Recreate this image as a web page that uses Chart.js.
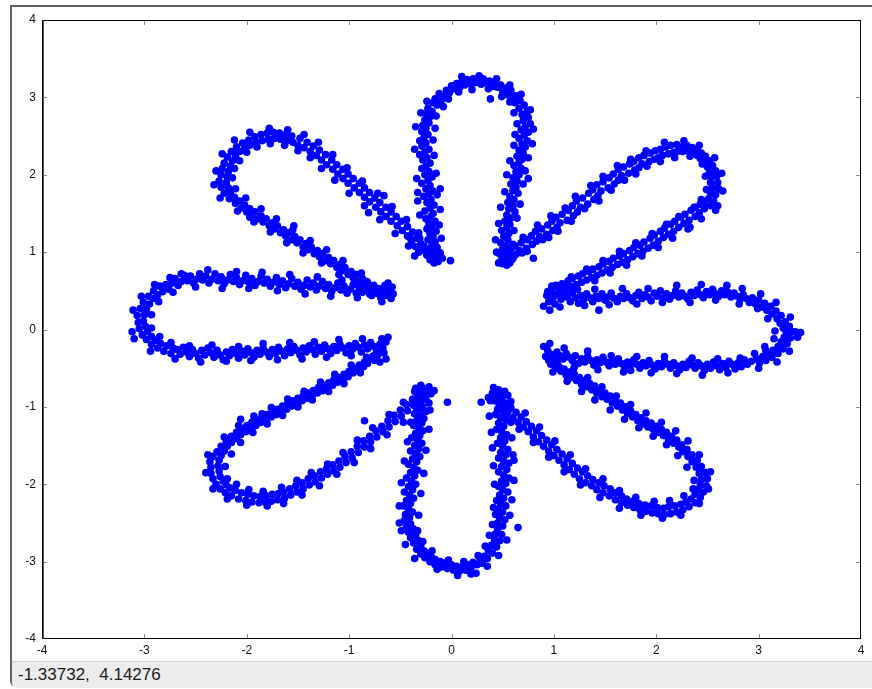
<!DOCTYPE html>
<html>
<head>
<meta charset="utf-8">
<script src="https://cdn.jsdelivr.net/npm/chart.js@4.4.0/dist/chart.umd.min.js"></script>
<style>
  html, body { margin: 0; padding: 0; background: #fff; }
  body { width: 872px; height: 689px; position: relative; overflow: hidden; font-family: "Liberation Sans", Arial, sans-serif; }
  #janela { position: absolute; left: 10px; top: 5px; right: 0; bottom: 2px; border-left: 2px solid #626262; border-top: 2px solid #626262; border-bottom-left-radius: 6px; }
  #grafico { position: absolute; left: 0; top: 0; }
  #status { position: absolute; left: 12px; top: 661px; right: 0; height: 26px; background: #ececec; border-top: 1px solid #d2d2d2; border-bottom-left-radius: 5px; color: #1a1a1a; font-size: 17px; line-height: 26px; padding-left: 6px; white-space: pre; }
</style>
</head>
<body>
<div id="janela"></div>
<canvas id="grafico" width="872" height="660"></canvas>
<div id="status">-1.33732,  4.14276</div>
<script>
// eixos
const tickValues = [-4, -3, -2, -1, 0, 1, 2, 3, 4];

// pontos, uma lista por petala [x, y]
const petalTop = [
  [-0.17,0.86],[-0.13,0.88],[-0.21,0.90],[-0.15,0.93],[-0.19,0.95],[-0.24,0.97],[-0.11,0.99],[-0.17,1.01],[-0.22,1.04],[-0.14,1.06],
  [-0.27,1.08],[-0.19,1.10],[-0.16,1.13],[-0.23,1.16],[-0.31,1.18],[-0.18,1.20],[-0.21,1.24],[-0.15,1.27],[-0.24,1.30],[-0.19,1.33],
  [-0.22,1.37],[-0.16,1.40],[-0.25,1.43],[-0.20,1.46],[-0.18,1.50],[-0.26,1.53],[-0.21,1.57],[-0.17,1.61],[-0.24,1.64],[-0.20,1.68],
  [-0.27,1.72],[-0.22,1.75],[-0.18,1.79],[-0.25,1.82],[-0.21,1.86],[-0.29,1.89],[-0.23,1.93],[-0.19,1.97],[-0.26,2.00],[-0.22,2.04],
  [-0.29,2.08],[-0.25,2.11],[-0.21,2.15],[-0.28,2.19],[-0.24,2.22],[-0.31,2.26],[-0.26,2.29],[-0.22,2.33],[-0.29,2.37],[-0.25,2.41],
  [-0.31,2.44],[-0.27,2.48],[-0.23,2.52],[-0.29,2.56],[-0.25,2.60],[-0.28,2.64],[-0.22,2.67],[-0.26,2.71],[-0.21,2.75],[-0.25,2.79],
  [-0.19,2.82],[-0.23,2.86],[-0.18,2.93],[-0.14,2.90],[-0.16,2.98],[-0.10,2.96],[-0.12,3.05],[-0.07,3.01],[-0.05,3.09],[-0.02,3.06],
  [0.00,3.15],[0.03,3.11],[0.05,3.18],[0.08,3.13],[0.10,3.20],[0.13,3.16],[0.15,3.23],[0.18,3.18],[0.21,3.24],[0.23,3.19],
  [0.26,3.22],[0.29,3.17],[0.31,3.24],[0.34,3.19],[0.37,3.21],[0.40,3.14],[0.42,3.20],[0.45,3.13],[0.48,3.16],[0.50,3.08],
  [0.53,3.12],[0.55,3.03],[0.58,3.09],[0.60,3.00],[0.63,3.02],[0.62,2.93],[0.67,2.96],[0.66,2.86],[0.71,2.90],[0.74,2.82],
  [0.69,2.78],[0.75,2.74],[0.70,2.70],[0.77,2.66],[0.72,2.62],[0.68,2.58],[0.75,2.55],[0.71,2.51],[0.66,2.47],[0.74,2.44],
  [0.69,2.40],[0.72,2.36],[0.66,2.32],[0.70,2.28],[0.64,2.24],[0.69,2.20],[0.66,2.16],[0.61,2.12],[0.68,2.08],[0.63,2.04],
  [0.66,2.00],[0.60,1.96],[0.64,1.92],[0.58,1.88],[0.63,1.84],[0.60,1.80],[0.65,1.76],[0.57,1.72],[0.61,1.68],[0.55,1.64],
  [0.60,1.60],[0.56,1.56],[0.62,1.52],[0.54,1.48],[0.58,1.44],[0.52,1.40],[0.57,1.36],[0.54,1.32],[0.49,1.28],[0.56,1.24],
  [0.51,1.20],[0.55,1.16],[0.48,1.12],[0.53,1.08],[0.50,1.04],[0.56,1.01],[0.47,0.98],[0.52,0.95],[0.55,0.92],[0.49,0.90],
  [0.53,0.88],[0.57,0.86],[0.50,0.85],[0.54,0.83],[-0.41,1.19],[-0.33,1.77],[-0.11,1.82],[0.75,1.95],[-0.01,0.89],[0.38,2.98],
  [-0.09,0.92],[-0.30,1.02],[-0.10,1.18],[-0.12,1.35],[-0.31,1.48],[-0.11,1.55],[-0.33,1.66],[-0.14,1.74],[-0.34,1.95],[-0.15,2.02],
  [-0.17,2.25],[-0.36,2.33],[-0.18,2.45],[-0.35,2.62],[-0.16,2.60],[-0.30,2.80],[-0.15,2.76],[-0.24,2.95],[-0.08,2.88],[-0.03,2.98],
  [0.07,3.07],[0.10,3.27],[0.20,3.10],[0.27,3.28],[0.36,3.11],[0.44,3.24],[0.49,3.01],[0.57,3.16],[0.57,2.94],[0.68,3.04],
  [0.61,2.80],[0.77,2.84],[0.64,2.66],[0.80,2.59],[0.62,2.52],[0.79,2.40],[0.61,2.38],[0.75,2.22],[0.57,2.18],[0.72,2.05],
  [0.54,2.00],[0.70,1.88],[0.52,1.78],[0.67,1.62],[0.48,1.58],[0.64,1.44],[0.46,1.37],[0.61,1.28],[0.43,1.16],[0.60,1.10],
  [0.44,1.00],[0.61,0.95],[0.46,0.86],[0.59,0.90]
];

const petalUpperRight = [
  [0.56,0.93],[0.52,0.99],[0.63,0.97],[0.58,1.04],[0.66,1.02],[0.62,1.08],[0.69,0.99],[0.73,1.05],[0.68,1.12],[0.74,1.16],
  [0.79,1.10],[0.83,1.14],[0.78,1.21],[0.86,1.20],[0.82,1.27],[0.93,1.23],[0.88,1.30],[0.94,1.35],[0.99,1.28],[1.03,1.32],
  [0.98,1.40],[1.06,1.38],[1.02,1.45],[1.13,1.41],[1.08,1.49],[1.14,1.54],[1.19,1.47],[1.23,1.52],[1.18,1.60],[1.26,1.58],
  [1.22,1.66],[1.33,1.62],[1.28,1.70],[1.34,1.76],[1.39,1.68],[1.43,1.73],[1.38,1.81],[1.46,1.79],[1.42,1.87],[1.53,1.83],
  [1.48,1.91],[1.54,1.96],[1.59,1.88],[1.63,1.93],[1.58,2.01],[1.66,1.99],[1.63,2.07],[1.73,2.02],[1.68,2.10],[1.74,2.14],
  [1.79,2.06],[1.83,2.09],[1.78,2.17],[1.86,2.14],[1.83,2.22],[1.93,2.17],[1.88,2.25],[1.94,2.28],[1.98,2.20],[2.02,2.22],
  [1.99,2.31],[2.06,2.25],[2.04,2.33],[2.12,2.27],[2.09,2.36],[2.14,2.38],[2.17,2.29],[2.21,2.30],[2.20,2.39],[2.25,2.36],
  [2.26,2.30],[2.30,2.38],[2.31,2.31],[2.35,2.35],[2.36,2.28],[2.40,2.33],[2.40,2.25],[2.44,2.28],[2.43,2.21],[2.48,2.24],
  [2.47,2.16],[2.52,2.18],[2.50,2.10],[2.55,2.12],[2.52,2.03],[2.58,2.05],[2.54,1.97],[2.59,1.98],[2.53,1.90],[2.60,1.90],
  [2.55,1.83],[2.61,1.82],[2.53,1.76],[2.58,1.74],[2.51,1.69],[2.56,1.66],[2.47,1.63],[2.53,1.60],[2.43,1.62],[2.47,1.56],
  [2.42,1.51],[2.37,1.58],[2.34,1.54],[2.38,1.46],[2.32,1.41],[2.28,1.49],[2.24,1.45],[2.27,1.37],[2.22,1.32],[2.18,1.40],
  [2.14,1.36],[2.17,1.27],[2.12,1.23],[2.08,1.31],[2.04,1.27],[2.07,1.19],[2.02,1.14],[1.98,1.22],[1.94,1.18],[1.97,1.09],
  [1.92,1.05],[1.88,1.13],[1.84,1.09],[1.87,1.01],[1.82,0.98],[1.78,1.06],[1.74,1.02],[1.77,0.94],[1.72,0.90],[1.68,0.98],
  [1.64,0.95],[1.67,0.87],[1.62,0.84],[1.58,0.92],[1.54,0.88],[1.57,0.80],[1.52,0.77],[1.48,0.85],[1.44,0.81],[1.47,0.73],
  [1.42,0.70],[1.38,0.78],[1.34,0.75],[1.37,0.67],[1.32,0.64],[1.28,0.72],[1.24,0.69],[1.27,0.61],[1.22,0.58],[1.18,0.66],
  [1.14,0.63],[1.17,0.55],[1.12,0.51],[1.08,0.59],[1.04,0.56],[1.07,0.48],[1.02,0.45],[0.98,0.53],[0.94,0.49],[0.97,0.42],
  [1.41,1.69],[0.95,1.19],[0.80,0.92],[2.60,1.60],[2.33,1.32],
  [0.60,0.92],[0.55,1.06],[0.74,1.01],[0.70,1.19],[0.89,1.16],[0.84,1.35],[1.04,1.27],[0.97,1.47],[1.17,1.40],[1.11,1.57],
  [1.30,1.56],[1.21,1.72],[1.44,1.66],[1.36,1.86],[1.56,1.80],[1.48,1.98],[1.69,1.93],[1.62,2.12],[1.80,2.01],[1.75,2.20],
  [1.91,2.11],[1.90,2.31],[2.04,2.17],[2.08,2.42],[2.18,2.22],[2.27,2.44],[2.33,2.24],[2.42,2.38],[2.45,2.14],[2.57,2.22],
  [2.48,1.98],[2.64,2.02],[2.49,1.81],[2.65,1.79],[2.44,1.68],[2.58,1.54],[2.38,1.58],[2.44,1.43],[2.22,1.46],[2.31,1.30],
  [2.10,1.36],[2.16,1.18],[1.96,1.24],[2.02,1.06],[1.80,1.12],[1.86,0.95],[1.64,1.01],[1.71,0.83],[1.48,0.89],[1.55,0.73],
  [1.32,0.78],[1.40,0.63],[1.17,0.68],[1.23,0.52],[1.02,0.57],[1.09,0.43]
];

const petalRight = [
  [0.93,0.44],[0.95,0.36],[0.97,0.48],[0.99,0.41],[1.01,0.33],[1.03,0.45],[1.05,0.52],[1.07,0.39],[1.09,0.46],[1.11,0.55],
  [1.13,0.42],[1.16,0.36],[1.18,0.47],[1.21,0.41],[1.24,0.34],[1.26,0.44],[1.29,0.39],[1.32,0.46],[1.35,0.41],[1.38,0.36],
  [1.41,0.43],[1.44,0.40],[1.47,0.46],[1.50,0.38],[1.53,0.42],[1.56,0.47],[1.59,0.40],[1.62,0.36],[1.65,0.43],[1.68,0.40],
  [1.71,0.46],[1.74,0.41],[1.77,0.37],[1.80,0.44],[1.83,0.48],[1.86,0.40],[1.89,0.45],[1.92,0.42],[1.95,0.37],[1.98,0.47],
  [2.01,0.43],[2.04,0.50],[2.07,0.41],[2.10,0.46],[2.13,0.39],[2.16,0.44],[2.19,0.50],[2.22,0.42],[2.25,0.47],[2.28,0.43],
  [2.31,0.39],[2.34,0.48],[2.37,0.44],[2.40,0.51],[2.43,0.45],[2.46,0.41],[2.49,0.49],[2.52,0.45],[2.55,0.52],[2.58,0.46],
  [2.61,0.43],[2.64,0.50],[2.67,0.45],[2.70,0.48],[2.73,0.42],[2.76,0.47],[2.79,0.43],[2.82,0.39],[2.85,0.45],[2.88,0.40],
  [2.91,0.35],[2.94,0.41],[2.97,0.33],[3.00,0.38],[3.03,0.29],[3.06,0.34],[3.08,0.25],[3.12,0.30],[3.13,0.20],[3.17,0.24],
  [3.18,0.14],[3.22,0.18],[3.21,0.08],[3.26,0.10],[3.24,0.02],[3.30,0.04],[3.27,-0.04],[3.33,-0.03],[3.36,-0.03],[3.25,-0.10],
  [3.31,-0.11],[3.22,-0.16],[3.28,-0.18],[3.19,-0.22],[3.24,-0.25],[3.14,-0.27],[3.19,-0.31],[3.09,-0.31],[3.13,-0.36],[3.04,-0.35],
  [3.07,-0.40],[2.98,-0.38],[3.01,-0.43],[2.93,-0.41],[2.89,-0.45],[2.86,-0.39],[2.83,-0.48],[2.80,-0.43],[2.77,-0.51],[2.74,-0.45],
  [2.71,-0.41],[2.68,-0.49],[2.65,-0.44],[2.62,-0.52],[2.59,-0.47],[2.56,-0.42],[2.53,-0.50],[2.50,-0.45],[2.47,-0.53],[2.44,-0.47],
  [2.41,-0.43],[2.38,-0.50],[2.35,-0.46],[2.32,-0.41],[2.29,-0.49],[2.26,-0.45],[2.23,-0.52],[2.20,-0.47],[2.17,-0.43],[2.14,-0.50],
  [2.11,-0.45],[2.08,-0.41],[2.05,-0.48],[2.02,-0.44],[1.99,-0.51],[1.96,-0.46],[1.93,-0.40],[1.90,-0.47],[1.87,-0.43],[1.84,-0.50],
  [1.81,-0.45],[1.78,-0.39],[1.75,-0.46],[1.72,-0.42],[1.69,-0.49],[1.66,-0.44],[1.63,-0.38],[1.60,-0.45],[1.57,-0.41],[1.54,-0.47],
  [1.51,-0.42],[1.48,-0.36],[1.45,-0.43],[1.42,-0.39],[1.39,-0.46],[1.36,-0.40],[1.33,-0.35],[1.30,-0.42],[1.27,-0.38],[1.24,-0.44],
  [1.21,-0.34],[1.18,-0.40],[1.15,-0.36],[1.12,-0.31],[1.09,-0.38],[1.06,-0.34],[1.03,-0.29],[1.00,-0.37],[0.97,-0.32],[0.94,-0.27],
  [0.92,-0.35],[0.95,-0.40],[1.44,0.25],[3.41,-0.04],[1.75,-0.53],[3.07,-0.27],
  [0.98,0.56],[1.06,0.29],[1.17,0.55],[1.30,0.31],[1.40,0.52],[1.54,0.32],[1.67,0.53],[1.81,0.33],[1.92,0.53],[2.06,0.35],
  [2.20,0.57],[2.33,0.35],[2.44,0.58],[2.58,0.38],[2.69,0.57],[2.84,0.53],[2.81,0.33],[3.02,0.46],[2.99,0.27],[3.17,0.35],
  [3.09,0.14],[3.31,0.16],[3.16,-0.02],[3.38,-0.10],[3.15,-0.12],[3.30,-0.28],[3.06,-0.22],[3.18,-0.42],[2.96,-0.31],[3.00,-0.50],
  [2.82,-0.37],[2.70,-0.56],[2.60,-0.38],[2.45,-0.59],[2.35,-0.37],[2.20,-0.57],[2.08,-0.35],[1.95,-0.56],[1.81,-0.35],[1.68,-0.55],
  [1.56,-0.34],[1.43,-0.52],[1.33,-0.28],[1.20,-0.48],[1.10,-0.24],[1.00,-0.45],[0.90,-0.22],[0.96,-0.18],[0.90,0.30],[0.96,0.25]
];

const petalLowerRight = [
  [0.97,-0.45],[1.00,-0.44],[1.02,-0.50],[1.05,-0.48],[1.07,-0.54],[1.10,-0.51],[1.12,-0.59],[1.15,-0.55],[1.17,-0.62],[1.20,-0.58],
  [1.22,-0.66],[1.25,-0.62],[1.27,-0.71],[1.30,-0.66],[1.32,-0.74],[1.35,-0.70],[1.37,-0.78],[1.40,-0.73],[1.42,-0.82],[1.45,-0.78],
  [1.47,-0.87],[1.50,-0.82],[1.52,-0.90],[1.55,-0.86],[1.57,-0.95],[1.60,-0.91],[1.62,-0.99],[1.65,-0.95],[1.67,-1.04],[1.70,-1.00],
  [1.72,-1.09],[1.75,-1.05],[1.77,-1.13],[1.80,-1.10],[1.82,-1.18],[1.85,-1.14],[1.87,-1.22],[1.90,-1.18],[1.92,-1.26],[1.95,-1.21],
  [1.97,-1.29],[2.00,-1.25],[2.02,-1.33],[2.05,-1.29],[2.07,-1.37],[2.10,-1.33],[2.12,-1.42],[2.15,-1.38],[2.17,-1.47],[2.20,-1.43],
  [2.22,-1.52],[2.25,-1.49],[2.26,-1.58],[2.30,-1.55],[2.31,-1.64],[2.35,-1.62],[2.35,-1.71],[2.40,-1.69],[2.39,-1.78],[2.44,-1.77],
  [2.42,-1.86],[2.48,-1.85],[2.44,-1.94],[2.50,-1.93],[2.43,-2.01],[2.49,-2.02],[2.41,-2.07],[2.46,-2.10],[2.38,-2.13],[2.43,-2.17],
  [2.34,-2.19],[2.38,-2.24],[2.29,-2.23],[2.32,-2.29],[2.24,-2.26],[2.26,-2.33],[2.18,-2.28],[2.20,-2.36],[2.12,-2.29],[2.14,-2.38],
  [2.07,-2.31],[2.08,-2.39],[2.01,-2.30],[2.02,-2.38],[1.95,-2.28],[1.96,-2.37],[1.89,-2.27],[1.90,-2.35],[1.83,-2.25],[1.84,-2.33],
  [1.77,-2.22],[1.78,-2.30],[1.71,-2.19],[1.72,-2.27],[1.66,-2.15],[1.66,-2.24],[1.60,-2.11],[1.60,-2.20],[1.55,-2.06],[1.54,-2.15],
  [1.49,-2.02],[1.48,-2.11],[1.44,-1.98],[1.42,-2.07],[1.38,-1.94],[1.37,-2.02],[1.33,-1.89],[1.31,-1.98],[1.28,-1.84],[1.25,-1.93],
  [1.23,-1.79],[1.20,-1.87],[1.18,-1.73],[1.15,-1.81],[1.13,-1.67],[1.10,-1.75],[1.08,-1.61],[1.05,-1.69],[1.03,-1.55],[1.00,-1.63],
  [0.98,-1.49],[0.95,-1.57],[0.93,-1.43],[0.90,-1.51],[0.88,-1.37],[0.85,-1.45],[0.83,-1.31],[0.80,-1.39],[0.78,-1.25],[0.75,-1.32],
  [0.73,-1.19],[0.70,-1.26],[0.68,-1.13],[0.65,-1.20],[0.63,-1.07],[0.60,-1.14],[0.58,-1.01],[0.55,-1.07],[0.53,-0.95],[0.50,-1.01],
  [0.48,-0.89],[0.46,-0.95],[0.44,-0.84],[0.41,-0.88],[0.47,-0.80],[0.43,-0.78],
  [1.04,-0.40],[0.99,-0.55],[1.19,-0.52],[1.13,-0.67],[1.33,-0.62],[1.27,-0.80],[1.47,-0.74],[1.40,-0.91],[1.61,-0.86],[1.55,-1.04],
  [1.75,-0.97],[1.69,-1.16],[1.90,-1.08],[1.83,-1.27],[2.05,-1.20],[1.97,-1.38],[2.19,-1.31],[2.10,-1.49],[2.31,-1.44],[2.21,-1.63],
  [2.42,-1.62],[2.30,-1.78],[2.53,-1.84],[2.37,-1.95],[2.51,-2.06],[2.36,-2.06],[2.42,-2.25],[2.27,-2.15],[2.24,-2.40],[2.13,-2.21],
  [2.06,-2.44],[1.98,-2.22],[1.85,-2.40],[1.80,-2.17],[1.64,-2.31],[1.64,-2.08],[1.45,-2.17],[1.48,-1.93],[1.26,-2.01],[1.31,-1.80],
  [1.10,-1.84],[1.16,-1.62],[0.95,-1.65],[1.01,-1.44],[0.80,-1.46],[0.86,-1.26],[0.66,-1.29],[0.72,-1.08],[0.53,-1.12],[0.58,-0.93],
  [0.38,-0.92],[0.52,-0.80]
];

const petalBottom = [
  [-0.22,-0.74],[-0.28,-0.76],[-0.24,-0.80],[-0.31,-0.82],[-0.20,-0.83],[-0.27,-0.86],[-0.33,-0.88],[-0.25,-0.90],[-0.30,-0.93],[-0.22,-0.95],
  [-0.34,-0.97],[-0.28,-1.00],[-0.31,-1.03],[-0.25,-1.06],[-0.36,-1.09],[-0.30,-1.12],[-0.27,-1.15],[-0.34,-1.18],[-0.29,-1.21],[-0.37,-1.24],
  [-0.32,-1.27],[-0.28,-1.31],[-0.35,-1.34],[-0.31,-1.37],[-0.39,-1.40],[-0.33,-1.43],[-0.29,-1.47],[-0.36,-1.50],[-0.32,-1.54],[-0.40,-1.57],
  [-0.35,-1.60],[-0.31,-1.64],[-0.38,-1.67],[-0.34,-1.71],[-0.42,-1.74],[-0.37,-1.78],[-0.33,-1.82],[-0.40,-1.85],[-0.36,-1.89],[-0.44,-1.92],
  [-0.39,-1.96],[-0.35,-2.00],[-0.42,-2.03],[-0.38,-2.07],[-0.46,-2.10],[-0.41,-2.14],[-0.37,-2.18],[-0.44,-2.21],[-0.40,-2.25],[-0.47,-2.28],
  [-0.42,-2.32],[-0.38,-2.36],[-0.45,-2.39],[-0.41,-2.43],[-0.46,-2.47],[-0.40,-2.51],[-0.44,-2.55],[-0.37,-2.58],[-0.42,-2.62],[-0.35,-2.65],
  [-0.40,-2.69],[-0.33,-2.72],[-0.37,-2.76],[-0.30,-2.79],[-0.34,-2.84],[-0.27,-2.86],[-0.30,-2.90],[-0.24,-2.89],[-0.26,-2.95],[-0.20,-2.93],
  [-0.21,-3.00],[-0.16,-2.97],[-0.16,-3.04],[-0.11,-3.00],[-0.10,-3.07],[-0.06,-3.02],[-0.04,-3.09],[0.00,-3.04],[0.02,-3.11],[0.05,-3.06],
  [0.08,-3.12],[0.11,-3.06],[0.14,-3.11],[0.16,-3.04],[0.19,-3.08],[0.21,-3.01],[0.24,-3.15],[0.25,-3.04],[0.28,-2.97],[0.30,-3.02],
  [0.32,-2.93],[0.35,-2.96],[0.36,-2.86],[0.40,-2.89],[0.39,-2.79],[0.44,-2.81],[0.42,-2.72],[0.47,-2.73],[0.43,-2.64],[0.49,-2.65],
  [0.45,-2.57],[0.50,-2.54],[0.45,-2.50],[0.52,-2.46],[0.47,-2.43],[0.43,-2.39],[0.50,-2.36],[0.46,-2.32],[0.53,-2.28],[0.48,-2.25],
  [0.44,-2.21],[0.51,-2.18],[0.47,-2.14],[0.55,-2.10],[0.50,-2.07],[0.46,-2.03],[0.53,-1.99],[0.49,-1.96],[0.56,-1.92],[0.51,-1.88],
  [0.46,-1.84],[0.54,-1.81],[0.49,-1.77],[0.56,-1.73],[0.51,-1.70],[0.46,-1.66],[0.53,-1.62],[0.48,-1.59],[0.55,-1.55],[0.50,-1.51],
  [0.45,-1.47],[0.52,-1.44],[0.48,-1.40],[0.54,-1.36],[0.49,-1.32],[0.44,-1.29],[0.51,-1.25],[0.46,-1.21],[0.53,-1.17],[0.48,-1.14],
  [0.43,-1.10],[0.50,-1.06],[0.45,-1.03],[0.52,-0.99],[0.47,-0.96],[0.42,-0.92],[0.49,-0.89],[0.44,-0.86],[0.50,-0.83],[0.40,-0.82],
  [0.46,-0.78],[0.41,-0.75],[0.29,-0.94],[0.65,-2.56],[0.61,-1.69],[-0.49,-2.60],[-0.04,-0.94],
  [-0.17,-0.79],[-0.37,-0.93],[-0.21,-1.04],[-0.40,-1.20],[-0.22,-1.29],[-0.43,-1.45],[-0.25,-1.56],[-0.46,-1.70],[-0.27,-1.86],[-0.49,-1.98],
  [-0.30,-2.12],[-0.51,-2.28],[-0.32,-2.40],[-0.51,-2.50],[-0.33,-2.60],[-0.45,-2.78],[-0.28,-2.74],[-0.36,-2.96],[-0.19,-2.86],[-0.14,-3.10],
  [-0.03,-2.98],[0.06,-3.18],[0.12,-3.00],[0.19,-3.16],[0.26,-2.92],[0.35,-3.06],[0.33,-2.80],[0.46,-2.92],[0.37,-2.66],[0.54,-2.72],
  [0.40,-2.52],[0.57,-2.40],[0.41,-2.30],[0.59,-2.20],[0.42,-2.00],[0.61,-1.95],[0.41,-1.76],[0.60,-1.62],[0.40,-1.53],[0.59,-1.40],
  [0.39,-1.33],[0.58,-1.20],[0.37,-1.12],[0.57,-1.02],[0.36,-0.88],[0.55,-0.85]
];

const petalLowerLeft = [
  [-0.72,-0.33],[-0.76,-0.34],[-0.75,-0.40],[-0.80,-0.38],[-0.82,-0.44],[-0.85,-0.42],[-0.86,-0.48],[-0.90,-0.46],[-0.91,-0.52],[-0.95,-0.50],
  [-0.96,-0.56],[-1.00,-0.54],[-1.01,-0.61],[-1.05,-0.58],[-1.06,-0.65],[-1.10,-0.62],[-1.11,-0.68],[-1.15,-0.65],[-1.16,-0.72],[-1.20,-0.69],
  [-1.21,-0.75],[-1.25,-0.72],[-1.26,-0.79],[-1.30,-0.75],[-1.31,-0.82],[-1.35,-0.79],[-1.36,-0.85],[-1.40,-0.82],[-1.41,-0.89],[-1.45,-0.86],
  [-1.46,-0.92],[-1.50,-0.89],[-1.51,-0.96],[-1.55,-0.92],[-1.56,-0.99],[-1.60,-0.96],[-1.61,-1.03],[-1.65,-0.99],[-1.66,-1.06],[-1.70,-1.03],
  [-1.71,-1.10],[-1.75,-1.06],[-1.76,-1.13],[-1.80,-1.10],[-1.81,-1.17],[-1.85,-1.13],[-1.86,-1.20],[-1.90,-1.17],[-1.91,-1.24],[-1.95,-1.20],
  [-1.96,-1.28],[-2.00,-1.24],[-2.01,-1.32],[-2.05,-1.28],[-2.06,-1.36],[-2.10,-1.33],[-2.10,-1.41],[-2.15,-1.38],[-2.15,-1.46],[-2.20,-1.44],
  [-2.19,-1.51],[-2.25,-1.51],[-2.22,-1.57],[-2.29,-1.58],[-2.25,-1.63],[-2.33,-1.64],[-2.27,-1.69],[-2.36,-1.71],[-2.28,-1.76],[-2.35,-1.78],
  [-2.27,-1.83],[-2.35,-1.86],[-2.26,-1.90],[-2.33,-1.93],[-2.23,-1.96],[-2.30,-2.00],[-2.20,-2.01],[-2.26,-2.06],[-2.16,-2.05],[-2.21,-2.11],
  [-2.11,-2.08],[-2.15,-2.15],[-2.05,-2.11],[-2.08,-2.19],[-1.99,-2.13],[-2.01,-2.21],[-1.93,-2.15],[-1.95,-2.23],[-1.87,-2.16],[-1.88,-2.24],
  [-1.81,-2.15],[-1.82,-2.23],[-1.75,-2.13],[-1.76,-2.22],[-1.69,-2.12],[-1.70,-2.20],[-1.64,-2.10],[-1.63,-2.18],[-1.58,-2.06],[-1.57,-2.14],
  [-1.52,-2.02],[-1.51,-2.10],[-1.46,-1.98],[-1.45,-2.06],[-1.40,-1.93],[-1.39,-2.01],[-1.34,-1.89],[-1.33,-1.97],[-1.28,-1.84],[-1.27,-1.92],
  [-1.22,-1.80],[-1.21,-1.87],[-1.16,-1.75],[-1.15,-1.83],[-1.10,-1.70],[-1.09,-1.78],[-1.04,-1.64],[-1.03,-1.72],[-0.98,-1.58],[-0.97,-1.66],
  [-0.92,-1.51],[-0.91,-1.59],[-0.86,-1.44],[-0.85,-1.52],[-0.80,-1.38],[-0.79,-1.45],[-0.74,-1.31],[-0.73,-1.39],[-0.68,-1.25],[-0.67,-1.32],
  [-0.62,-1.18],[-0.61,-1.26],[-0.56,-1.11],[-0.55,-1.19],[-0.50,-1.04],[-0.49,-1.12],[-0.44,-0.97],[-0.43,-1.05],[-0.38,-0.90],[-0.37,-0.98],
  [-0.33,-0.83],[-0.31,-0.91],[-0.28,-0.78],[-0.35,-0.76],[-0.30,-0.72],[-2.06,-1.16],[-1.85,-1.09],[-0.85,-1.18],
  [-0.70,-0.42],[-0.83,-0.36],[-0.89,-0.56],[-0.98,-0.46],[-1.05,-0.70],[-1.14,-0.58],[-1.20,-0.80],[-1.28,-0.68],[-1.36,-0.91],[-1.44,-0.80],
  [-1.50,-1.00],[-1.60,-0.90],[-1.65,-1.11],[-1.76,-1.01],[-1.80,-1.22],[-1.93,-1.12],[-1.94,-1.33],[-2.08,-1.24],[-2.06,-1.46],[-2.22,-1.39],
  [-2.15,-1.61],[-2.38,-1.62],[-2.21,-1.77],[-2.40,-1.85],[-2.19,-1.93],[-2.33,-2.06],[-2.10,-2.00],[-2.19,-2.19],[-1.98,-2.07],[-2.00,-2.27],
  [-1.84,-2.09],[-1.80,-2.28],[-1.66,-2.04],[-1.64,-2.25],[-1.51,-1.95],[-1.46,-2.14],[-1.37,-1.85],[-1.29,-2.02],[-1.21,-1.74],[-1.12,-1.87],
  [-1.06,-1.59],[-0.95,-1.72],[-0.92,-1.43],[-0.79,-1.54],[-0.77,-1.27],[-0.63,-1.36],[-0.61,-1.10],[-0.47,-1.20],[-0.47,-0.94],[-0.34,-1.02],
  [-0.36,-0.80]
];

const petalLeft = [
  [-0.57,0.46],[-0.59,0.40],[-0.61,0.52],[-0.63,0.44],[-0.65,0.56],[-0.67,0.49],[-0.69,0.41],[-0.71,0.53],[-0.73,0.47],[-0.76,0.55],
  [-0.78,0.44],[-0.81,0.50],[-0.84,0.57],[-0.87,0.48],[-0.90,0.54],[-0.93,0.47],[-0.96,0.58],[-0.99,0.52],[-1.02,0.47],[-1.05,0.56],
  [-1.08,0.51],[-1.11,0.60],[-1.14,0.54],[-1.17,0.49],[-1.20,0.58],[-1.23,0.53],[-1.26,0.62],[-1.29,0.56],[-1.32,0.51],[-1.35,0.60],
  [-1.38,0.55],[-1.41,0.64],[-1.44,0.57],[-1.47,0.52],[-1.50,0.61],[-1.53,0.56],[-1.56,0.66],[-1.59,0.59],[-1.62,0.54],[-1.65,0.63],
  [-1.68,0.58],[-1.71,0.67],[-1.74,0.61],[-1.77,0.56],[-1.80,0.65],[-1.83,0.60],[-1.86,0.69],[-1.89,0.62],[-1.92,0.57],[-1.95,0.66],
  [-1.98,0.61],[-2.01,0.70],[-2.04,0.63],[-2.07,0.58],[-2.10,0.67],[-2.13,0.62],[-2.16,0.71],[-2.19,0.64],[-2.22,0.59],[-2.25,0.68],
  [-2.28,0.63],[-2.31,0.72],[-2.34,0.65],[-2.37,0.60],[-2.40,0.69],[-2.43,0.64],[-2.46,0.72],[-2.49,0.65],[-2.52,0.60],[-2.55,0.69],
  [-2.58,0.63],[-2.61,0.70],[-2.64,0.62],[-2.67,0.57],[-2.70,0.66],[-2.73,0.60],[-2.76,0.52],[-2.79,0.58],[-2.82,0.49],[-2.85,0.56],
  [-2.87,0.45],[-2.91,0.50],[-2.91,0.40],[-2.96,0.43],[-2.95,0.33],[-3.01,0.35],[-2.98,0.26],[-3.04,0.27],[-3.00,0.19],[-3.07,0.18],
  [-3.01,0.11],[-3.06,0.09],[-2.99,0.04],[-3.05,0.01],[-3.12,-0.03],[-2.97,-0.03],[-3.02,-0.07],[-2.93,-0.09],[-2.98,-0.13],[-2.89,-0.14],
  [-2.93,-0.19],[-2.84,-0.18],[-2.87,-0.24],[-2.78,-0.21],[-2.81,-0.28],[-2.72,-0.24],[-2.74,-0.31],[-2.68,-0.26],[-2.65,-0.32],[-2.62,-0.23],
  [-2.59,-0.29],[-2.56,-0.35],[-2.53,-0.26],[-2.50,-0.31],[-2.47,-0.37],[-2.44,-0.27],[-2.41,-0.33],[-2.38,-0.24],[-2.35,-0.30],[-2.32,-0.36],
  [-2.29,-0.27],[-2.26,-0.33],[-2.23,-0.39],[-2.20,-0.29],[-2.17,-0.34],[-2.14,-0.26],[-2.11,-0.31],[-2.08,-0.37],[-2.05,-0.28],[-2.02,-0.33],
  [-1.99,-0.25],[-1.96,-0.30],[-1.93,-0.36],[-1.90,-0.27],[-1.87,-0.32],[-1.84,-0.24],[-1.81,-0.29],[-1.78,-0.35],[-1.75,-0.26],[-1.72,-0.31],
  [-1.69,-0.23],[-1.66,-0.28],[-1.63,-0.34],[-1.60,-0.25],[-1.57,-0.30],[-1.54,-0.22],[-1.51,-0.27],[-1.48,-0.33],[-1.45,-0.24],[-1.42,-0.29],
  [-1.39,-0.21],[-1.36,-0.26],[-1.33,-0.32],[-1.30,-0.23],[-1.27,-0.28],[-1.24,-0.20],[-1.21,-0.25],[-1.18,-0.31],[-1.15,-0.22],[-1.12,-0.27],
  [-1.09,-0.19],[-1.06,-0.24],[-1.03,-0.30],[-1.00,-0.21],[-0.97,-0.26],[-0.94,-0.18],[-0.91,-0.23],[-0.88,-0.29],[-0.85,-0.20],[-0.82,-0.25],
  [-0.79,-0.17],[-0.76,-0.22],[-0.73,-0.28],[-0.70,-0.19],[-0.67,-0.24],[-0.64,-0.16],[-0.68,-0.12],[-0.72,-0.32],[-0.66,-0.30],
  [-0.62,0.60],[-0.68,0.36],[-0.83,0.62],[-0.92,0.41],[-1.07,0.64],[-1.18,0.43],[-1.31,0.68],[-1.43,0.46],[-1.58,0.71],[-1.70,0.50],
  [-1.85,0.74],[-1.98,0.53],[-2.10,0.75],[-2.24,0.53],[-2.38,0.77],[-2.50,0.55],[-2.64,0.72],[-2.75,0.67],[-2.72,0.48],[-2.90,0.58],
  [-2.86,0.36],[-3.03,0.43],[-2.93,0.19],[-3.11,0.25],[-2.93,0.02],[-3.10,-0.12],[-2.85,-0.09],[-2.94,-0.28],[-2.74,-0.17],[-2.70,-0.38],
  [-2.56,-0.21],[-2.45,-0.42],[-2.34,-0.20],[-2.20,-0.41],[-2.08,-0.22],[-1.96,-0.40],[-1.84,-0.18],[-1.70,-0.39],[-1.58,-0.17],[-1.46,-0.38],
  [-1.34,-0.16],[-1.22,-0.36],[-1.10,-0.13],[-0.98,-0.34],[-0.87,-0.12],[-0.77,-0.35],[-0.62,-0.10],[-0.64,-0.38],[-0.58,0.55]
];

const petalUpperLeft = [
  [-0.70,0.52],[-0.74,0.48],[-0.76,0.57],[-0.79,0.53],[-0.82,0.61],[-0.85,0.58],[-0.87,0.66],[-0.90,0.62],[-0.93,0.71],[-0.96,0.67],
  [-0.98,0.75],[-1.01,0.71],[-1.04,0.80],[-1.07,0.76],[-1.09,0.84],[-1.12,0.80],[-1.15,0.89],[-1.18,0.85],[-1.20,0.93],[-1.23,0.89],
  [-1.26,0.98],[-1.29,0.94],[-1.31,1.02],[-1.34,0.98],[-1.37,1.07],[-1.40,1.03],[-1.42,1.11],[-1.45,1.07],[-1.48,1.16],[-1.51,1.12],
  [-1.53,1.20],[-1.56,1.16],[-1.59,1.25],[-1.62,1.21],[-1.64,1.29],[-1.67,1.25],[-1.70,1.34],[-1.73,1.30],[-1.75,1.38],[-1.78,1.34],
  [-1.81,1.43],[-1.84,1.39],[-1.86,1.47],[-1.89,1.43],[-1.92,1.52],[-1.95,1.48],[-1.97,1.56],[-2.00,1.52],[-2.02,1.61],[-2.05,1.57],
  [-2.07,1.66],[-2.11,1.63],[-2.12,1.71],[-2.17,1.69],[-2.16,1.77],[-2.22,1.76],[-2.18,1.83],[-2.25,1.84],[-2.20,1.90],[-2.27,1.92],
  [-2.19,1.97],[-2.25,2.00],[-2.18,2.04],[-2.24,2.08],[-2.16,2.11],[-2.22,2.15],[-2.14,2.18],[-2.19,2.23],[-2.11,2.24],[-2.15,2.30],
  [-2.07,2.30],[-2.10,2.36],[-2.02,2.34],[-2.04,2.41],[-1.97,2.38],[-1.98,2.45],[-1.91,2.42],[-1.92,2.49],[-1.85,2.44],[-1.86,2.52],
  [-1.79,2.46],[-1.80,2.54],[-1.73,2.47],[-1.74,2.55],[-1.67,2.46],[-1.68,2.54],[-1.61,2.44],[-1.62,2.52],[-1.55,2.42],[-1.56,2.50],
  [-1.50,2.38],[-1.48,2.47],[-1.44,2.35],[-1.41,2.42],[-1.38,2.30],[-1.35,2.37],[-1.32,2.25],[-1.29,2.32],[-1.27,2.19],[-1.23,2.26],
  [-1.22,2.13],[-1.17,2.19],[-1.16,2.07],[-1.12,2.13],[-1.11,2.01],[-1.06,2.07],[-1.06,1.95],[-1.01,2.01],[-1.01,1.89],[-0.96,1.95],
  [-0.95,1.83],[-0.90,1.89],[-0.90,1.77],[-0.85,1.83],[-0.85,1.71],[-0.80,1.77],[-0.80,1.65],[-0.75,1.70],[-0.74,1.58],[-0.70,1.64],
  [-0.69,1.52],[-0.64,1.58],[-0.64,1.46],[-0.59,1.52],[-0.59,1.40],[-0.54,1.46],[-0.53,1.34],[-0.49,1.40],[-0.48,1.28],[-0.43,1.33],
  [-0.43,1.21],[-0.38,1.26],[-0.39,1.14],[-0.34,1.18],[-0.35,1.07],[-0.30,1.11],[-0.32,1.00],[-0.27,1.03],[-2.10,2.31],[-1.97,1.45],
  [-0.81,1.51],[-0.66,1.73],[-1.54,1.34],
  [-0.65,0.57],[-0.80,0.46],[-0.88,0.73],[-0.95,0.58],[-1.06,0.89],[-1.10,0.71],[-1.22,1.03],[-1.27,0.86],[-1.38,1.15],[-1.45,0.99],
  [-1.55,1.29],[-1.61,1.12],[-1.71,1.43],[-1.77,1.26],[-1.86,1.56],[-1.93,1.39],[-2.01,1.70],[-2.09,1.53],[-2.11,1.82],[-2.26,1.70],
  [-2.14,1.96],[-2.32,1.87],[-2.12,2.08],[-2.30,2.05],[-2.07,2.18],[-2.24,2.27],[-2.00,2.29],[-2.12,2.45],[-1.90,2.36],[-1.97,2.55],
  [-1.77,2.40],[-1.78,2.60],[-1.63,2.38],[-1.60,2.58],[-1.50,2.31],[-1.44,2.52],[-1.38,2.22],[-1.30,2.42],[-1.27,2.08],[-1.16,2.26],
  [-1.14,1.93],[-1.02,2.09],[-1.00,1.76],[-0.87,1.92],[-0.85,1.60],[-0.72,1.76],[-0.70,1.42],[-0.58,1.59],[-0.55,1.24],[-0.44,1.42],
  [-0.42,1.08],[-0.32,1.25],[-0.36,0.95],[-0.24,0.96]
];

const allPetals = [petalTop, petalUpperRight, petalRight, petalLowerRight, petalBottom, petalLowerLeft, petalLeft, petalUpperLeft];

// ticks para dentro e moldura, como no original
const frameTicks = {
  id: 'frameTicks',
  afterDraw(chart) {
    const ctx = chart.ctx;
    const a = chart.chartArea;
    const sx = chart.scales.x, sy = chart.scales.y;
    ctx.save();
    ctx.strokeStyle = '#8a8a8a';
    ctx.lineWidth = 1;
    ctx.beginPath();
    tickValues.slice(1, -1).forEach(function (v) {
      const px = Math.round(sx.getPixelForValue(v)) + 0.5;
      ctx.moveTo(px, a.bottom); ctx.lineTo(px, a.bottom - 5);
      ctx.moveTo(px, a.top); ctx.lineTo(px, a.top + 5);
      const py = Math.round(sy.getPixelForValue(v)) + 0.5;
      ctx.moveTo(a.left, py); ctx.lineTo(a.left + 5, py);
      ctx.moveTo(a.right, py); ctx.lineTo(a.right - 5, py);
    });
    ctx.stroke();
    ctx.strokeStyle = '#000';
    ctx.strokeRect(a.left + 0.5, a.top + 0.5, a.right - a.left - 1, a.bottom - a.top - 1);
    ctx.strokeStyle = '#555';
    ctx.beginPath();
    ctx.moveTo(a.left + 1.5, a.top); ctx.lineTo(a.left + 1.5, a.bottom);
    ctx.stroke();
    ctx.restore();
  }
};

const axisFont = { family: 'Liberation Sans', size: 12 };

const config = {
  type: 'scatter',
  data: {
    datasets: [{
      label: 'flor',
      data: allPetals.flat().map(function (p) { return { x: p[0], y: p[1] }; }),
      backgroundColor: '#0000ff',
      pointRadius: 3.8,
      pointBorderWidth: 0,
      pointHoverRadius: 3.8
    }]
  },
  options: {
    responsive: false,
    animation: false,
    devicePixelRatio: 1,
    layout: { padding: { top: 20, right: 11, left: 0, bottom: 0 } },
    plugins: { legend: { display: false }, tooltip: { enabled: false } },
    scales: {
      x: {
        type: 'linear', min: -4, max: 4,
        afterFit: function (s) { s.height = 21; },
        afterBuildTicks: function (s) { s.ticks = tickValues.map(function (v) { return { value: v }; }); },
        grid: { display: false, drawTicks: false },
        border: { display: false },
        ticks: { color: '#111', font: axisFont, padding: 4, maxRotation: 0, autoSkip: false }
      },
      y: {
        type: 'linear', min: -4, max: 4,
        afterFit: function (s) { s.width = 42; },
        afterBuildTicks: function (s) { s.ticks = tickValues.map(function (v) { return { value: v }; }); },
        grid: { display: false, drawTicks: false },
        border: { display: false },
        ticks: { color: '#111', font: axisFont, padding: 6, autoSkip: false }
      }
    }
  },
  plugins: [frameTicks]
};

const myChart = new Chart(document.getElementById('grafico'), config);
</script>
</body>
</html>
